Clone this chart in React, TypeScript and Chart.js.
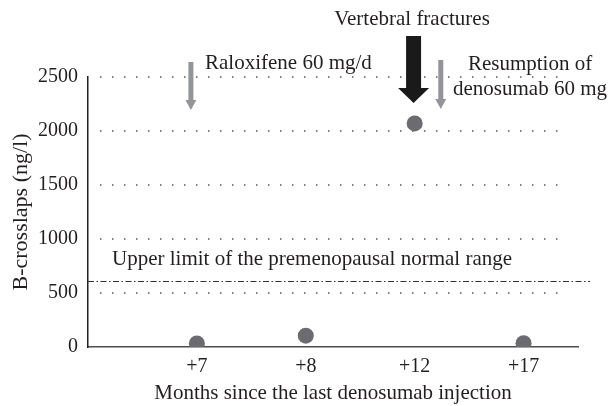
import React, { useEffect, useRef } from 'react';
import { Chart, registerables } from 'chart.js';

Chart.register(...registerables);

// ---- data ----
const CATEGORIES = ['+7', '+8', '+12', '+17'];
const CATEGORY_POS = [1, 2, 3, 4];
const BCROSSLAPS = [33, 105, 2070, 35];
const Y_TICKS = [0, 500, 1000, 1500, 2000, 2500];
const UPPER_LIMIT = 610;

const X_TITLE = 'Months since the last denosumab injection';
const Y_TITLE = 'B-crosslaps (ng/l)';
const UPPER_LABEL = 'Upper limit of the premenopausal normal range';
const FRACTURE_LABEL = 'Vertebral fractures';
const RALOX_LABEL = 'Raloxifene 60 mg/d';
const RESUME_LABEL = ['Resumption of', 'denosumab 60 mg'];

const FONT = '"Liberation Serif", "Times New Roman", serif';
const TEXT = '#231f20';
const GRAY = '#939598';

function drawArrow(ctx: CanvasRenderingContext2D, cx: number, top: number, tip: number, shaftW: number, headW: number, headL: number, color: string) {
  ctx.fillStyle = color;
  ctx.beginPath();
  ctx.moveTo(cx - shaftW / 2, top);
  ctx.lineTo(cx + shaftW / 2, top);
  ctx.lineTo(cx + shaftW / 2, tip - headL);
  ctx.lineTo(cx + headW / 2, tip - headL);
  ctx.lineTo(cx, tip);
  ctx.lineTo(cx - headW / 2, tip - headL);
  ctx.lineTo(cx - shaftW / 2, tip - headL);
  ctx.closePath();
  ctx.fill();
}

const annotations = {
  id: 'annots',
  beforeDatasetsDraw(chart: any) {
    const { ctx, chartArea: a, scales } = chart;
    const y = scales.y;
    ctx.save();
    ctx.strokeStyle = '#58595b';
    ctx.lineWidth = 1.5;
    ctx.setLineDash([1.5, 10.5]);
    for (const v of Y_TICKS) {
      if (v === 0) continue;
      const py = Math.round(y.getPixelForValue(v));
      ctx.beginPath();
      ctx.moveTo(a.left + 12, py);
      ctx.lineTo(a.right - 10, py);
      ctx.stroke();
    }
    ctx.setLineDash([6, 2.5, 1.5, 2.5]);
    ctx.strokeStyle = '#333';
    ctx.lineWidth = 1.2;
    const uy = Math.round(y.getPixelForValue(UPPER_LIMIT)) + 0.5;
    ctx.beginPath();
    ctx.moveTo(a.left, uy);
    ctx.lineTo(a.right + 12, uy);
    ctx.stroke();
    ctx.restore();
  },
  afterDraw(chart: any) {
    const { ctx, scales } = chart;
    const x = scales.x;
    const y = scales.y;
    ctx.save();
    drawArrow(ctx, x.getPixelForValue(0.945), y.getPixelForValue(2639), y.getPixelForValue(2194), 5, 11, 10, GRAY);
    drawArrow(ctx, x.getPixelForValue(3.24), y.getPixelForValue(2657), y.getPixelForValue(2204), 5, 11, 10, GRAY);
    drawArrow(ctx, x.getPixelForValue(2.99), y.getPixelForValue(2880), y.getPixelForValue(2259), 15, 31, 15, '#1a1a1a');

    ctx.fillStyle = TEXT;
    ctx.font = `21px ${FONT}`;
    ctx.textBaseline = 'alphabetic';
    ctx.textAlign = 'center';
    ctx.fillText(FRACTURE_LABEL, 412, 25);
    ctx.fillText(RESUME_LABEL[0], 530, 70);
    ctx.fillText(RESUME_LABEL[1], 530, 95);
    ctx.textAlign = 'left';
    ctx.fillText(RALOX_LABEL, 205, 69);
    ctx.fillText(UPPER_LABEL, 112, 265);
    ctx.restore();
  },
};

export default function App() {
  const ref = useRef<HTMLCanvasElement>(null);
  useEffect(() => {
    document.body.style.margin = '0';
    const canvas = ref.current!;
    const chart = new Chart(canvas, {
      type: 'scatter',
      data: {
        datasets: [
          {
            data: CATEGORY_POS.map((p, i) => ({ x: p, y: BCROSSLAPS[i] })),
            backgroundColor: '#6b6c70',
            borderColor: '#6b6c70',
            pointRadius: 8,
            pointHoverRadius: 8,
            borderWidth: 0,
            clip: 0,
          },
        ],
      },
      options: {
        responsive: false,
        animation: false,
        events: [],
        layout: { padding: { top: 77, right: 31, left: 0, bottom: 0 } },
        plugins: { legend: { display: false }, tooltip: { enabled: false } },
        scales: {
          x: {
            type: 'linear',
            min: 0,
            max: 4.5,
            afterBuildTicks: (s: any) => {
              s.ticks = CATEGORY_POS.map((v) => ({ value: v }));
            },
            afterFit: (s: any) => {
              s.height = 59;
            },
            ticks: {
              autoSkip: false,
              maxRotation: 0,
              padding: 8,
              color: TEXT,
              font: { family: FONT, size: 20 },
              callback: (v: any) => {
                const i = CATEGORY_POS.indexOf(Number(v));
                return i >= 0 ? CATEGORIES[i] : '';
              },
            },
            grid: { display: false, drawTicks: false },
            border: { display: true, color: '#4d4d4f', width: 1.5 },
            title: {
              display: true,
              text: X_TITLE,
              color: TEXT,
              font: { family: FONT, size: 21 },
              padding: 0,
            },
          },
          y: {
            type: 'linear',
            min: 0,
            max: 2500,
            afterBuildTicks: (s: any) => {
              s.ticks = Y_TICKS.map((v) => ({ value: v }));
            },
            afterFit: (s: any) => {
              s.width = 88;
            },
            ticks: {
              padding: 10,
              color: TEXT,
              font: { family: FONT, size: 20 },
              callback: (v: any) => String(v),
            },
            grid: { display: false, drawTicks: false },
            border: { display: true, color: '#231f20', width: 1.5 },
            title: {
              display: true,
              text: Y_TITLE,
              color: TEXT,
              font: { family: FONT, size: 22 },
              padding: { top: 8, bottom: 0 },
            },
          },
        },
      },
      plugins: [annotations],
    });
    return () => chart.destroy();
  }, []);
  return (
    <div style={{ position: 'absolute', left: 0, top: 0, width: 609, height: 406, background: '#fff' }}>
      <canvas ref={ref} width={609} height={406} style={{ display: 'block' }} />
    </div>
  );
}
